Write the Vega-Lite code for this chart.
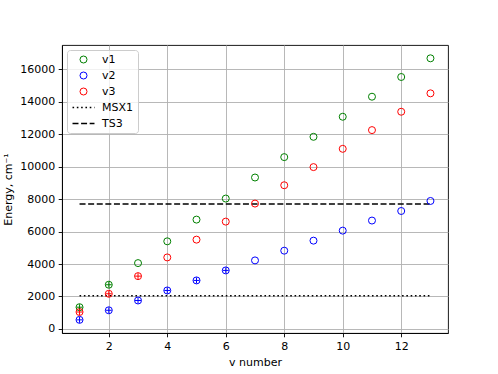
{
  "$schema": "https://vega.github.io/schema/vega-lite/v6.json",
  "width": 386,
  "height": 288,
  "autosize": {"type": "none"},
  "padding": {"left": 62, "top": 45, "right": 50, "bottom": 41},
  "background": "white",
  "config": {
    "font": "DejaVu Sans",
    "view": {"stroke": "black", "strokeWidth": 0.9},
    "axis": {
      "labelFont": "DejaVu Sans", "labelFontSize": 11, "labelColor": "black",
      "titleFont": "DejaVu Sans", "titleFontSize": 11, "titleFontWeight": "normal", "titleColor": "black",
      "tickColor": "black", "tickSize": 3.8, "tickWidth": 0.9,
      "domainColor": "black", "domainWidth": 0.9,
      "gridColor": "#b0b0b0", "gridWidth": 0.9, "labelPadding": 3.5
    },
    "legend": {
      "labelFont": "DejaVu Sans", "labelFontSize": 11, "labelColor": "black"
    }
  },
  "datasets": {
    "pts": [
      {"v": 1, "energy": 1340, "series": "v1"},
      {"v": 2, "energy": 2724, "series": "v1"},
      {"v": 3, "energy": 4058, "series": "v1"},
      {"v": 4, "energy": 5400, "series": "v1"},
      {"v": 5, "energy": 6739, "series": "v1"},
      {"v": 6, "energy": 8036, "series": "v1"},
      {"v": 7, "energy": 9333, "series": "v1"},
      {"v": 8, "energy": 10590, "series": "v1"},
      {"v": 9, "energy": 11841, "series": "v1"},
      {"v": 10, "energy": 13077, "series": "v1"},
      {"v": 11, "energy": 14313, "series": "v1"},
      {"v": 12, "energy": 15528, "series": "v1"},
      {"v": 13, "energy": 16680, "series": "v1"},
      {"v": 1, "energy": 560, "series": "v2"},
      {"v": 2, "energy": 1150, "series": "v2"},
      {"v": 3, "energy": 1754, "series": "v2"},
      {"v": 4, "energy": 2372, "series": "v2"},
      {"v": 5, "energy": 2990, "series": "v2"},
      {"v": 6, "energy": 3607, "series": "v2"},
      {"v": 7, "energy": 4225, "series": "v2"},
      {"v": 8, "energy": 4824, "series": "v2"},
      {"v": 9, "energy": 5442, "series": "v2"},
      {"v": 10, "energy": 6059, "series": "v2"},
      {"v": 11, "energy": 6680, "series": "v2"},
      {"v": 12, "energy": 7270, "series": "v2"},
      {"v": 13, "energy": 7888, "series": "v2"},
      {"v": 1, "energy": 1045, "series": "v3"},
      {"v": 2, "energy": 2168, "series": "v3"},
      {"v": 3, "energy": 3255, "series": "v3"},
      {"v": 4, "energy": 4408, "series": "v3"},
      {"v": 5, "energy": 5504, "series": "v3"},
      {"v": 6, "energy": 6615, "series": "v3"},
      {"v": 7, "energy": 7727, "series": "v3"},
      {"v": 8, "energy": 8857, "series": "v3"},
      {"v": 9, "energy": 9975, "series": "v3"},
      {"v": 10, "energy": 11101, "series": "v3"},
      {"v": 11, "energy": 12255, "series": "v3"},
      {"v": 12, "energy": 13387, "series": "v3"},
      {"v": 13, "energy": 14521, "series": "v3"}
    ],
    "plus": [
      {"v": 1, "energy": 1340, "series": "v1"},
      {"v": 2, "energy": 2724, "series": "v1"},
      {"v": 1, "energy": 560, "series": "v2"},
      {"v": 2, "energy": 1150, "series": "v2"},
      {"v": 3, "energy": 1754, "series": "v2"},
      {"v": 4, "energy": 2372, "series": "v2"},
      {"v": 5, "energy": 2990, "series": "v2"},
      {"v": 6, "energy": 3607, "series": "v2"},
      {"v": 1, "energy": 1045, "series": "v3"},
      {"v": 2, "energy": 2168, "series": "v3"},
      {"v": 3, "energy": 3255, "series": "v3"}
    ],
    "lines": [
      {"v": 1, "energy": 2050, "series": "MSX1"},
      {"v": 13, "energy": 2050, "series": "MSX1"},
      {"v": 1, "energy": 7700, "series": "TS3"},
      {"v": 13, "energy": 7700, "series": "TS3"}
    ]
  },
  "encoding": {
    "x": {
      "field": "v", "type": "quantitative",
      "scale": {"domain": [0.4, 13.6], "nice": false, "zero": false},
      "axis": {"values": [2, 4, 6, 8, 10, 12], "title": "v number", "titlePadding": 5}
    },
    "y": {
      "field": "energy", "type": "quantitative",
      "scale": {"domain": [-250, 17500], "nice": false, "zero": false},
      "axis": {"values": [0, 2000, 4000, 6000, 8000, 10000, 12000, 14000, 16000], "title": "Energy, cm⁻¹", "titlePadding": 6, "format": "d"}
    },
    "color": {
      "field": "series", "type": "nominal",
      "scale": {
        "domain": ["v1", "v2", "v3", "MSX1", "TS3"],
        "range": ["#008000", "#0000ff", "#ff0000", "black", "black"]
      },
      "legend": {
        "title": null,
        "orient": "none", "legendX": 5, "legendY": 5,
        "fillColor": "rgba(255,255,255,0.8)", "strokeColor": "#cccccc", "cornerRadius": 3,
        "padding": 4, "symbolOffset": 7, "labelOffset": 13, "rowPadding": 4,
        "symbolSize": 49, "symbolType": "circle",
        "encode": {
          "symbols": {"update": {"strokeWidth": {"signal": "indexof(['MSX1','TS3'], datum.value) >= 0 ? 1.6 : 1"}, "fill": {"value": "transparent"}}}
        }
      }
    }
  },
  "layer": [
    {
      "data": {"name": "lines"},
      "mark": {"type": "line", "strokeWidth": 1.6},
      "encoding": {
        "strokeDash": {
          "field": "series", "type": "nominal",
          "scale": {"domain": ["MSX1", "TS3"], "range": [[1.6, 2.7], [6, 2.6]]},
          "legend": null
        },
        "detail": {"field": "series"}
      }
    },
    {
      "data": {"name": "pts"},
      "mark": {"type": "point", "filled": false, "size": 49, "strokeWidth": 1, "opacity": 1},
      "encoding": {
        "shape": {
          "field": "series", "type": "nominal",
          "scale": {
            "domain": ["v1", "v2", "v3", "MSX1", "TS3"],
            "range": ["circle", "circle", "circle",
              "M-3.14,0H-2.68M-1.91,0H-1.45M-0.68,0H-0.22M0.55,0H1.01M1.78,0H2.24M3.01,0H3.14",
              "M-3.14,0H-1.43M-0.69,0H1.02M1.76,0H3.14"]
          }
        }
      }
    },
    {
      "data": {"name": "plus"},
      "mark": {"type": "point", "filled": false, "size": 36, "strokeWidth": 1, "opacity": 1, "shape": "M-1,0H1M0,-1V1"}
    }
  ]
}
